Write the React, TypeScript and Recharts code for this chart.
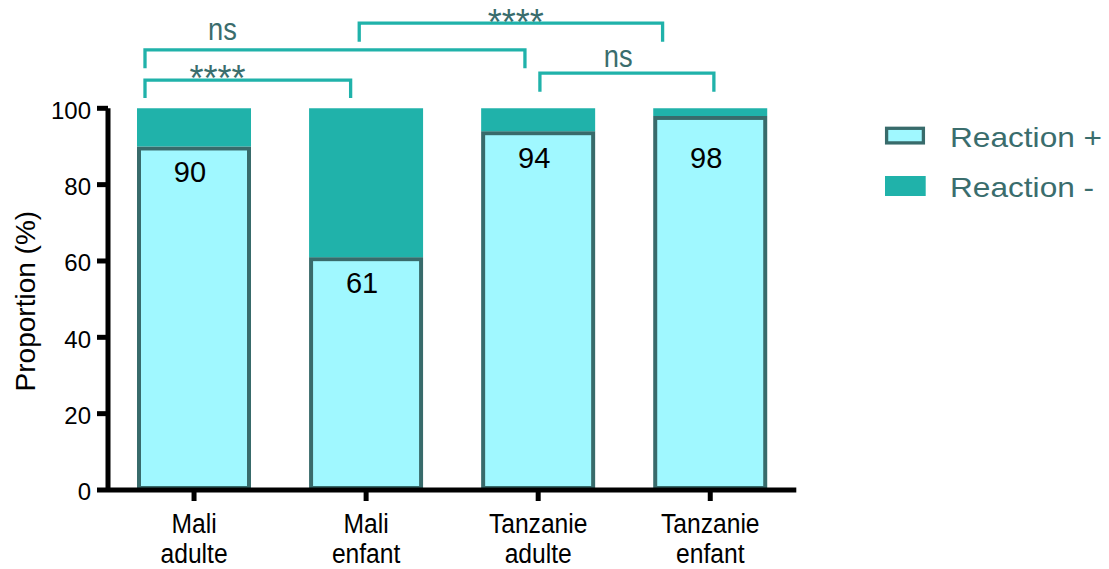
import React from 'react';
import {
  BarChart,
  Bar,
  XAxis,
  YAxis,
  Legend,
  LabelList,
  ReferenceArea,
  ReferenceDot,
} from 'recharts';

// Groups and stacked proportions (%)
const groups = ['Mali adulte', 'Mali enfant', 'Tanzanie adulte', 'Tanzanie enfant'];
const reactionPositive = [90, 61, 94, 98];
const reactionNegative = [10, 39, 6, 2];
const yTicks = [0, 20, 40, 60, 80, 100];

// Significance brackets, on a 0..4 group axis (group i is centred on i + 0.5)
const bracketStart = [0.215, 0.215, 1.46, 2.51];
const bracketEnd = [1.41, 2.423, 3.223, 3.521];
const bracketTop = [107.4, 115.3, 122.3, 109.2];
const bracketFoot = [102.7, 110.5, 117.45, 104.35];
const bracketText = ['****', 'ns', '****', 'ns'];
const bracketTextX = [0.636, 0.665, 2.37, 2.965];
const bracketTextY = [104.5, 117.9, 119.2, 110.9];

const FONT = '"Liberation Sans", Arial, Helvetica, sans-serif';
const POS_FILL = '#A0F8FF';
const POS_STROKE = '#386B6B';
const NEG_FILL = '#20B2AA';
const NOTE_COLOR = '#3A6D6D';

const rows = groups.map((g, i) => ({
  group: g,
  slot: i + 0.5,
  pos: reactionPositive[i],
  neg: reactionNegative[i],
}));

const CategoryTick = (props: any) => {
  const { x, y, payload } = props;
  const label: string = payload.value;
  const cut = label.indexOf(' ');
  const first = label.slice(0, cut);
  const second = label.slice(cut + 1);
  return (
    <g transform={`translate(${x},${y})`}>
      <text
        transform="translate(0,31.7) scale(0.88,1)"
        textAnchor="middle"
        fontFamily={FONT}
        fontSize={28}
        fill="#000"
      >
        {first}
      </text>
      <text
        transform="translate(0,62.3) scale(0.88,1)"
        textAnchor="middle"
        fontFamily={FONT}
        fontSize={28}
        fill="#000"
      >
        {second}
      </text>
    </g>
  );
};

const ValueTick = (props: any) => {
  const { x, y, payload } = props;
  return (
    <text x={x} y={y + 10.2} textAnchor="end" fontFamily={FONT} fontSize={24} fill="#000">
      {payload.value}
    </text>
  );
};

const AxisTitle = (props: any) => {
  const vb = props.viewBox || { x: 0, y: 108, width: 108, height: 382 };
  const cx = vb.x + 35;
  const cy = vb.y + vb.height / 2 + 2;
  return (
    <text
      x={cx}
      y={cy}
      transform={`rotate(-90, ${cx}, ${cy})`}
      textAnchor="middle"
      fontFamily={FONT}
      fontSize={28}
      fill="#000"
    >
      Proportion (%)
    </text>
  );
};

// Reaction + segment: outline drawn inside the segment's own extent
const PositiveShape = (p: any) => {
  if (!p.height) return null;
  return (
    <rect
      x={p.x + 2}
      y={p.y + 2}
      width={Math.max(p.width - 4, 0)}
      height={Math.max(p.height - 4, 0)}
      fill={POS_FILL}
      stroke={POS_STROKE}
      strokeWidth={4}
    />
  );
};

const PositiveValue = (p: any) => {
  const cx = p.x + p.width / 2 - 4;
  const baseline = Math.max(p.y + 36, 168.3);
  return (
    <text x={cx} y={baseline} textAnchor="middle" fontFamily={FONT} fontSize={29} fill="#000">
      {p.value}
    </text>
  );
};

const BracketShape = (p: any) => {
  const { x, y, width, height } = p;
  const d = `M${x},${y + height} L${x},${y} L${x + width},${y} L${x + width},${y + height}`;
  return <path d={d} fill="none" stroke={NEG_FILL} strokeWidth={3.3} strokeLinejoin="miter" />;
};

const makeNote = (txt: string) => (p: any) => {
  const star = txt.indexOf('*') >= 0;
  return (
    <text
      transform={`translate(${p.cx},${p.cy}) scale(${star ? 1 : 0.88},1)`}
      textAnchor="middle"
      fontFamily={FONT}
      fontSize={star ? 36 : 31}
      fill={NOTE_COLOR}
    >
      {txt}
    </text>
  );
};

const LegendBox = () => (
  <svg width={239} height={100} style={{ display: 'block' }}>
    <rect
      x={16.6}
      y={18.3}
      width={36.8}
      height={14.6}
      fill={POS_FILL}
      stroke={POS_STROKE}
      strokeWidth={3.3}
    />
    <text
      transform="translate(80,37.3) scale(1.13,1)"
      fontFamily={FONT}
      fontSize={28}
      fill={NOTE_COLOR}
    >
      Reaction +
    </text>
    <rect x={15} y={66} width={40.7} height={20} fill={NEG_FILL} />
    <text
      transform="translate(80,86.7) scale(1.13,1)"
      fontFamily={FONT}
      fontSize={28}
      fill={NOTE_COLOR}
    >
      Reaction -
    </text>
  </svg>
);

export default function App() {
  return (
    <div style={{ position: 'absolute', left: 0, top: 0, width: 1109, height: 569, background: '#fff' }}>
      <BarChart
        width={1109}
        height={569}
        data={rows}
        margin={{ top: 108.3, right: 312.7, bottom: 0, left: 0 }}
        barSize={114}
        style={{ fontFamily: FONT }}
      >
        <XAxis
          xAxisId="cat"
          dataKey="group"
          height={79}
          tickSize={11}
          tickMargin={0}
          axisLine={{ stroke: '#000', strokeWidth: 5 }}
          tickLine={{ stroke: '#000', strokeWidth: 5 }}
          tick={<CategoryTick />}
          interval={0}
        />
        <XAxis
          xAxisId="ann"
          dataKey="slot"
          type="number"
          domain={[0, 4]}
          allowDataOverflow
          orientation="top"
          height={0}
          hide
        />
        <YAxis
          type="number"
          domain={[0, 100]}
          ticks={yTicks}
          width={108}
          tickSize={11}
          tickMargin={6}
          axisLine={{ stroke: '#000', strokeWidth: 5 }}
          tickLine={{ stroke: '#000', strokeWidth: 5 }}
          tick={<ValueTick />}
          interval={0}
          label={<AxisTitle />}
        />
        <Bar
          xAxisId="cat"
          dataKey="pos"
          name="Reaction +"
          stackId="s"
          fill={POS_FILL}
          shape={<PositiveShape />}
          isAnimationActive={false}
        >
          <LabelList dataKey="pos" content={<PositiveValue />} />
        </Bar>
        <Bar
          xAxisId="cat"
          dataKey="neg"
          name="Reaction -"
          stackId="s"
          fill={NEG_FILL}
          isAnimationActive={false}
        />
        {bracketText.map((t, i) => (
          <ReferenceArea
            key={`br-${i}`}
            xAxisId="ann"
            x1={bracketStart[i]}
            x2={bracketEnd[i]}
            y1={bracketFoot[i]}
            y2={bracketTop[i]}
            ifOverflow="visible"
            shape={<BracketShape />}
          />
        ))}
        {bracketText.map((t, i) => (
          <ReferenceDot
            key={`bt-${i}`}
            xAxisId="ann"
            x={bracketTextX[i]}
            y={bracketTextY[i]}
            r={0}
            ifOverflow="visible"
            shape={makeNote(t)}
          />
        ))}
        <Legend
          layout="horizontal"
          verticalAlign="middle"
          align="center"
          wrapperStyle={{ position: 'absolute', left: 870, top: 110, width: 239, height: 100 }}
          content={<LegendBox />}
        />
      </BarChart>
    </div>
  );
}
